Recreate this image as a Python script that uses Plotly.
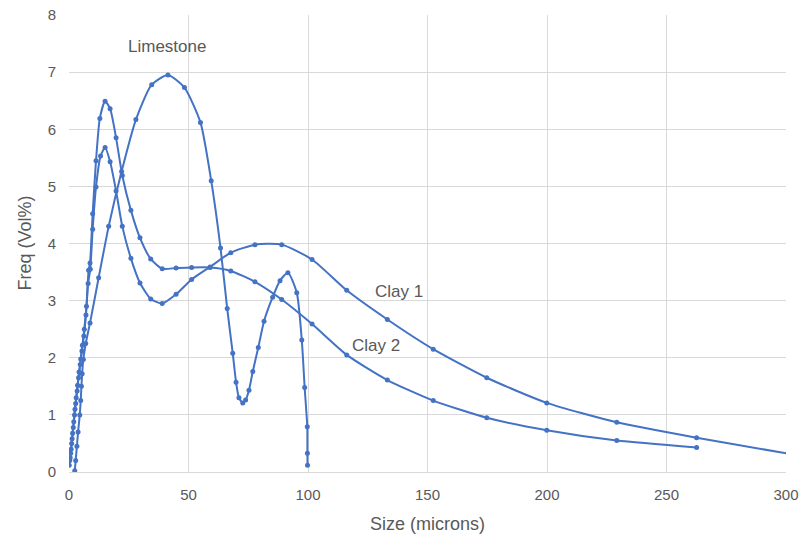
import plotly.graph_objects as go

# ---- data ----
limestone_x = [2.4, 2.8, 3.3, 3.8, 4.5, 4.9, 5.2, 5.5, 6.0, 7.0, 8.8, 12.4, 16.6, 22.0, 28.0,
               34.6, 41.4, 48.3, 55.0, 59.5, 63.4, 66.2, 68.5, 69.9, 71.1, 72.7, 73.9, 75.3,
               76.9, 79.2, 81.6, 85.2, 88.3, 91.6, 95.3, 97.4, 98.6, 99.7, 99.75, 99.8]
limestone_y = [0.02, 0.2, 0.45, 0.7, 1.0, 1.25, 1.5, 1.72, 1.97, 2.25, 2.61, 3.40, 4.30, 5.26, 6.17,
               6.78, 6.95, 6.73, 6.12, 5.10, 3.92, 2.86, 2.08, 1.57, 1.30, 1.21, 1.26, 1.43,
               1.76, 2.18, 2.64, 3.06, 3.35, 3.49, 3.14, 2.31, 1.48, 0.79, 0.33, 0.12]

clay1_x = [0.1, 0.5, 0.9, 1.3, 1.8, 2.3, 2.8, 3.4, 4.0, 4.7, 5.4, 6.2, 7.1, 8.0, 8.9, 9.9, 11.3,
           13.2, 15.1, 17.2, 19.7, 22.3, 25.9, 29.7, 34.2, 39.0, 44.8, 51.3, 59.0, 67.7, 77.8,
           89.0, 101.7, 116.2, 133.2, 152.4, 174.8, 199.9, 229.2, 262.6, 301.0]
clay1_y = [0.12, 0.25, 0.4, 0.58, 0.78, 1.0, 1.2, 1.42, 1.65, 1.88, 2.12, 2.38, 2.75, 3.3, 3.55,
           4.25, 4.99, 5.53, 5.68, 5.43, 4.92, 4.30, 3.74, 3.31, 3.03, 2.95, 3.11, 3.37, 3.59,
           3.84, 3.98, 3.98, 3.72, 3.18, 2.67, 2.15, 1.65, 1.21, 0.87, 0.60, 0.32]

clay2_x = [0.3, 0.7, 1.1, 1.5, 2.0, 2.5, 3.0, 3.6, 4.2, 4.9, 5.6, 6.4, 7.3, 8.2, 8.8, 9.9, 11.3,
           12.9, 15.1, 17.2, 19.7, 22.3, 25.9, 29.7, 34.2, 39.0, 44.8, 51.3, 59.0, 67.7, 77.8,
           89.0, 101.7, 116.2, 133.2, 152.4, 174.8, 199.9, 229.2, 262.6]
clay2_y = [0.2, 0.33, 0.5, 0.68, 0.88, 1.1, 1.3, 1.52, 1.75, 1.98, 2.22, 2.5, 2.9, 3.53, 3.66,
           4.52, 5.45, 6.19, 6.49, 6.36, 5.85, 5.19, 4.58, 4.10, 3.73, 3.56, 3.57, 3.58, 3.58,
           3.52, 3.33, 3.02, 2.59, 2.05, 1.61, 1.25, 0.95, 0.73, 0.55, 0.43]

x_ticks = [0, 50, 100, 150, 200, 250, 300]
y_ticks = [0, 1, 2, 3, 4, 5, 6, 7, 8]

labels = [("Limestone", 41, 7.45), ("Clay 1", 138, 3.16), ("Clay 2", 128.5, 2.22)]

BLUE = "#4472C4"
GREY = "#595959"
FONT = "Liberation Sans, Arial, sans-serif"

fig = go.Figure()
for name, xs, ys in [("Limestone", limestone_x, limestone_y),
                     ("Clay 1", clay1_x, clay1_y),
                     ("Clay 2", clay2_x, clay2_y)]:
    fig.add_trace(go.Scatter(
        x=xs, y=ys, name=name, mode="lines+markers",
        line=dict(color=BLUE, width=2, shape="spline", smoothing=0.6),
        marker=dict(color=BLUE, size=5),
        showlegend=False,
    ))

for text, lx, ly in labels:
    fig.add_annotation(x=lx, y=ly, text=text, showarrow=False,
                       font=dict(family=FONT, size=17, color=GREY))

fig.add_annotation(xref="paper", yref="paper", x=0.5, y=0, yshift=-52,
                   xanchor="center", yanchor="middle",
                   text="Size (microns)", showarrow=False,
                   font=dict(family=FONT, size=18, color=GREY))
fig.add_annotation(xref="paper", yref="paper", x=0, y=0.5, xshift=-45,
                   xanchor="center", yanchor="middle",
                   text="Freq (Vol%)", textangle=-90, showarrow=False,
                   font=dict(family=FONT, size=18, color=GREY))

fig.update_layout(
    width=804, height=540,
    margin=dict(l=69, r=18, t=15, b=68),
    paper_bgcolor="white", plot_bgcolor="white",
    font=dict(family=FONT, size=15, color=GREY),
)
fig.update_xaxes(range=[0, 300], tickvals=x_ticks, showgrid=True, gridcolor="#d9d9d9",
                 gridwidth=1, zeroline=False, showline=True, linecolor="#d9d9d9",
                 ticks="", ticklabelstandoff=9, automargin=False,
                 tickfont=dict(size=15, color=GREY))
fig.update_yaxes(range=[0, 8], tickvals=y_ticks, showgrid=True, gridcolor="#d9d9d9",
                 gridwidth=1, zeroline=False, showline=False, automargin=False,
                 ticks="", ticklabelstandoff=12, tickfont=dict(size=15, color=GREY))

fig.write_html("out.html")
